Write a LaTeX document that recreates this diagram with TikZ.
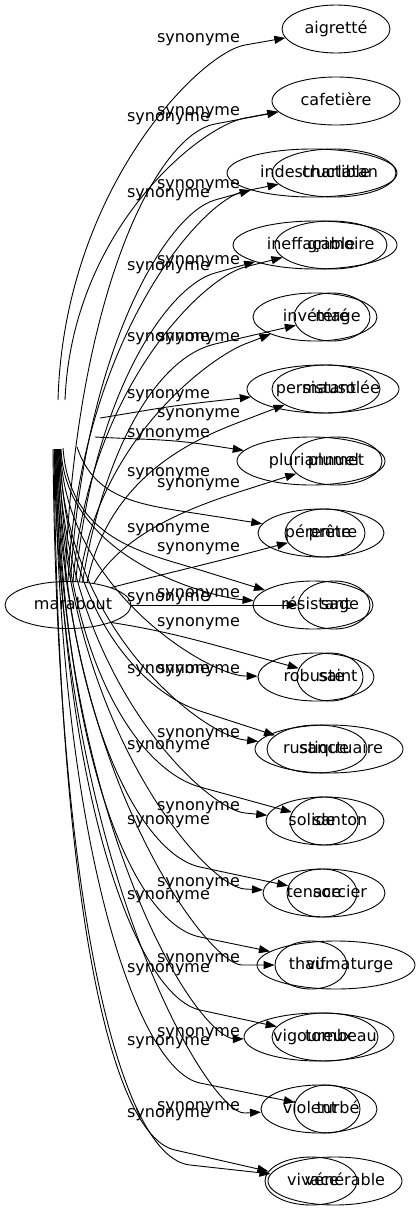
\documentclass[tikz,border=0pt]{standalone}
\usepackage{fontspec}
\setmainfont{DejaVu Sans}
\usetikzlibrary{shapes.geometric,arrows.meta,calc}
\newcommand\wt[2]{\makebox[0pt]{\kern#1pt\relax #2}}
\newcommand\synedge[4]{\draw[syn] (#1) .. controls (#2) and ($(#3)!-0.5!(#4)$) .. (#3) -- (#4);}
\begin{document}
\begin{tikzpicture}[x=1pt,y=-1pt,font=\fontsize{16}{19}\selectfont,
  wnode/.style={ellipse,draw,line width=0.9pt,inner sep=0pt,text height=11.5pt,text depth=3.5pt,minimum height=48pt},
  lab/.style={inner sep=0pt,text height=11.5pt,text depth=3.5pt},
  syn/.style={line width=0.9pt,-{Triangle[length=11pt,width=8pt]}}]
\fill[white] (0,0) rectangle (420,1211);
\useasboundingbox (0,0) rectangle (420,1211);

% source
\node[wnode,minimum width=126pt,minimum height=47pt] (mar) at (68,605) {\wt{10}{marabout}};

% targets
\node[wnode,minimum width=108pt] (aig) at (336,29) {\wt{0}{aigretté}};
\node[wnode,minimum width=128pt] (caf) at (336,101) {\wt{0}{cafetière}};
\node[wnode,minimum width=170pt] (ind) at (312,173) {\wt{6}{indestructible}};
\node[wnode,minimum width=124pt] (cha) at (334,173) {\wt{12}{charlatan}};
\node[wnode,minimum width=164pt] (ine) at (315,245) {\wt{-8}{ineffaçable}};
\node[wnode,minimum width=112pt] (gri) at (331,245) {\wt{20}{grimoire}};
\node[wnode,minimum width=124pt] (inv) at (315,317) {\wt{2}{invétéré}};
\node[wnode,minimum width=76pt] (mag) at (332,317) {\wt{12}{mage}};
\node[wnode,minimum width=152pt] (per) at (323,389) {\wt{-14}{persistant}};
\node[wnode,minimum width=108pt] (mau) at (326,389) {\wt{30}{mausolée}};
\node[wnode,minimum width=148pt] (plu) at (311,461) {\wt{6}{pluriannuel}};
\node[wnode,minimum width=92pt] (plm) at (336,461) {\wt{0}{plumet}};
\node[wnode,minimum width=126pt] (pern) at (321,533) {\wt{-6}{pérenne}};
\node[wnode,minimum width=80pt] (pre) at (325,533) {\wt{16}{prêtre}};
\node[wnode,minimum width=120pt] (res) at (313,605) {\wt{6}{résistant}};
\node[wnode,minimum width=72pt] (sag) at (334,605) {\wt{12}{sage}};
\node[wnode,minimum width=116pt] (rob) at (316,677) {\wt{-4}{robuste}};
\node[wnode,minimum width=66pt] (sai) at (330,677) {\wt{16}{saint}};
\node[wnode,minimum width=148pt] (sanc) at (329,749) {\wt{24}{sanctuaire}};
\node[wnode,minimum width=100pt] (rus) at (317,749) {\wt{-2}{rustique}};
\node[wnode,minimum width=118pt] (snt) at (325,821) {\wt{30}{santon}};
\node[wnode,minimum width=68pt] (sol) at (324,821) {\wt{-24}{solide}};
\node[wnode,minimum width=122pt] (sor) at (324,893) {\wt{32}{sorcier}};
\node[wnode,minimum width=70pt] (ten) at (322,893) {\wt{-16}{tenace}};
\node[wnode,minimum width=158pt] (tha) at (336,965) {\wt{10}{thaumaturge}};
\node[wnode,minimum width=72pt] (vif) at (311,965) {\wt{10}{vif}};
\node[wnode,minimum width=150pt] (vig) at (319,1037) {\wt{-12}{vigoureux}};
\node[wnode,minimum width=106pt] (tom) at (325,1037) {\wt{32}{tombeau}};
\node[wnode,minimum width=116pt] (vio) at (319,1109) {\wt{-18}{violent}};
\node[wnode,minimum width=66pt] (tur) at (327,1109) {\wt{22}{turbé}};
\node[wnode,minimum width=134pt] (ven) at (335,1181) {\wt{20}{vénérable}};
\node[wnode,minimum width=92pt] (viv) at (311,1181) {\wt{4}{vivace}};

% labels (right column)
\node[lab] (s1) at (198.5,38) {synonyme};
\node[lab] (s2) at (198.5,111) {synonyme};
\node[lab] (s3) at (198.5,184) {synonyme};
\node[lab] (s4) at (198.5,260) {synonyme};
\node[lab] (s5) at (198.5,337) {synonyme};
\node[lab] (s6) at (198.5,413) {synonyme};
\node[lab] (s7) at (198.5,483) {synonyme};
\node[lab] (s8) at (198.5,547) {synonyme};
\node[lab] (s9) at (198.5,593) {synonyme};
\node[lab] (s10) at (198.5,622) {synonyme};
\node[lab] (s11) at (198.5,669) {synonyme};
\node[lab] (s12) at (198.5,733) {synonyme};
\node[lab] (s13) at (198.5,806) {synonyme};
\node[lab] (s14) at (198.5,882) {synonyme};
\node[lab] (s15) at (198.5,958) {synonyme};
\node[lab] (s16) at (198.5,1032) {synonyme};
\node[lab] (s17) at (198.5,1106) {synonyme};
% labels (left column)
\node[lab] (u1) at (168.5,117) {synonyme};
\node[lab] (u2) at (168.5,193) {synonyme};
\node[lab] (u3) at (168.5,266) {synonyme};
\node[lab] (u4) at (168.5,337) {synonyme};
\node[lab] (u5) at (168.5,394) {synonyme};
\node[lab] (u6) at (168.5,433) {synonyme};
\node[lab] (u7) at (168.5,472) {synonyme};
\node[lab] (u8) at (168.5,528) {synonyme};
\node[lab] (u9) at (168.5,597) {synonyme};
\node[lab] (u10) at (168.5,669) {synonyme};
\node[lab] (u11) at (168.5,745) {synonyme};
\node[lab] (u12) at (168.5,820) {synonyme};
\node[lab] (u13) at (168.5,895) {synonyme};
\node[lab] (u14) at (168.5,968) {synonyme};
\node[lab] (u15) at (168.5,1041) {synonyme};
\node[lab] (u16) at (168.5,1113) {synonyme};

% free tail ends
\coordinate (t1) at (58,400);
\coordinate (t2) at (65,400);
\coordinate (t3) at (100,418);
\coordinate (t4) at (95,437);
\coordinate (t5) at (77,447);
\coordinate (t6) at (63,448);
\coordinate (t7) at (61,449);
\coordinate (b1) at (60.5,449);
\coordinate (b2) at (60,449);
\coordinate (b3) at (59.5,449);
\coordinate (b4) at (59,449);
\coordinate (b5) at (58.5,449);
\coordinate (b6) at (58,449);
\coordinate (b7) at (57.5,449);
\coordinate (b8) at (57,449);
\coordinate (b9) at (56.5,449);
\coordinate (b10) at (56,449);
\coordinate (b11) at (55.5,449);
\coordinate (b12) at (55,449);
\coordinate (b13) at (54.5,449);
\coordinate (b14) at (54,449);
\coordinate (b15) at (53,449);

% upward edges
\synedge{t1}{64,190}{245,45}{aig}
\synedge{t2}{72,230}{245,118}{caf}
\synedge{mar.97}{75,300}{215,124}{caf}
\synedge{mar.90}{80,340}{245,191}{cha}
\synedge{mar.84}{84,350}{215,200}{ind}
\synedge{mar.78}{88,390}{245,267}{gri}
\synedge{mar.72}{92,400}{215,273}{ine}
\synedge{mar.64}{98,440}{245,344}{inv}
\synedge{mar.58}{104,450}{215,344}{mag}
\synedge{t3}{150,410}{215,401}{per}
\synedge{mar.50}{110,470}{245,420}{mau}
\synedge{t4}{150,440}{215,446}{plu}
\synedge{mar.40}{125,530}{245,490}{plm}
\synedge{t5}{95,500}{200,514}{pern}
\synedge{mar.22}{160,575}{245,554}{pre}
\synedge{t6}{70,540}{200,570}{res}
\synedge{t7}{66,560}{245,600}{res}
\draw[syn] (mar.east) -- (sag);
\synedge{mar.338}{160,630}{240,652}{sai}

% downward edges
\synedge{b1}{64,590}{245,676}{rob}
\synedge{b2}{64,611}{200,711}{rus}
\synedge{b3}{63,629}{245,740}{sanc}
\synedge{b4}{63,659}{200,787}{sol}
\synedge{b5}{62,675}{245,813}{snt}
\synedge{b6}{62,708}{200,867}{ten}
\synedge{b7}{61,722}{245,889}{sor}
\synedge{b8}{61,751}{200,937}{tha}
\synedge{b9}{60,769}{242,965}{vif}
\synedge{b10}{60,797}{200,1010}{tom}
\synedge{b11}{59,815}{236,1039}{vig}
\synedge{b12}{59,842}{200,1083}{tur}
\synedge{b13}{58,861}{245,1113}{vio}
\synedge{b14}{58,884}{175,1150}{viv}
\synedge{b15}{57,894}{190,1165}{ven}
\end{tikzpicture}
\end{document}
